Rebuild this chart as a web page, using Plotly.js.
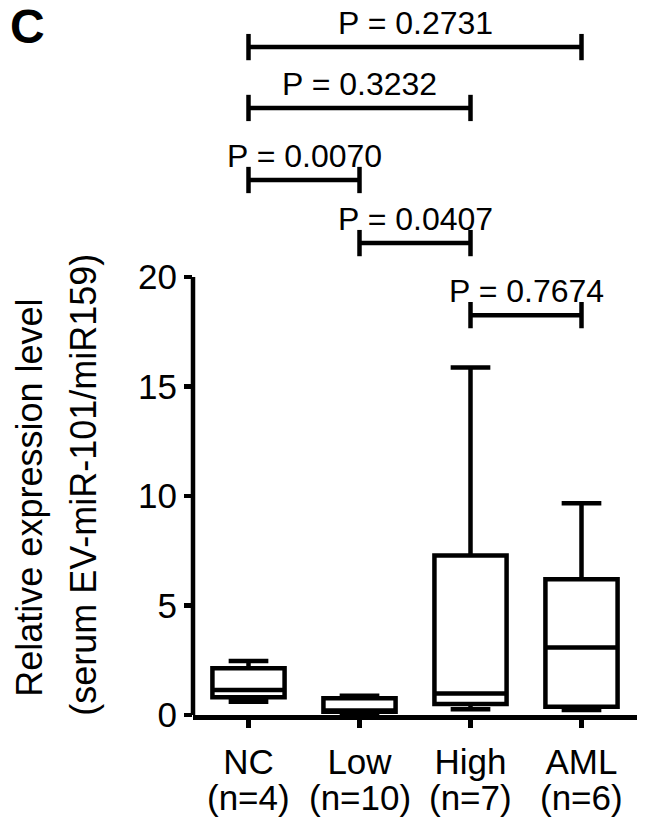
<!DOCTYPE html>
<html>
<head>
<meta charset="utf-8">
<script src="https://cdn.plot.ly/plotly-3.0.1.min.js"></script>
<style>
  html, body { margin: 0; padding: 0; background: #fff; }
  #chart { width: 646px; height: 831px; }
</style>
</head>
<body>
<div id="chart"></div>
<script>
// groups and box stats
var groups = ['NC', 'Low', 'High', 'AML'];
var nCounts = [4, 10, 7, 6];
var lowerWhisker = [0.61, 0.08, 0.26, 0.23];
var q1 = [0.81, 0.15, 0.50, 0.38];
var medians = [1.14, 0.20, 0.98, 3.08];
var q3 = [2.13, 0.76, 7.28, 6.20];
var upperWhisker = [2.47, 0.88, 15.87, 9.67];

// pairwise comparisons: [group a, group b], p value, bracket height
var pairs = [[0, 3], [0, 2], [0, 1], [1, 2], [2, 3]];
var pValues = ['0.2731', '0.3232', '0.0070', '0.0407', '0.7674'];
var bracketLevels = [30.5, 27.72, 24.43, 21.55, 18.26];

var yTicks = [0, 5, 10, 15, 20];

var FONT = 'Liberation Sans, Arial, sans-serif';
var lw = 4.5;

var boxTrace = {
  type: 'box',
  x: groups,
  q1: q1,
  median: medians,
  q3: q3,
  lowerfence: lowerWhisker,
  upperfence: upperWhisker,
  boxpoints: false,
  fillcolor: 'white',
  line: { color: 'black', width: lw },
  width: 0.65,
  whiskerwidth: 0.55,
  hoverinfo: 'skip',
  showlegend: false
};

var shapes = [];
var annotations = [];

// y axis line only from 0 to 20
shapes.push({
  type: 'line', xref: 'paper', yref: 'y',
  x0: 0, x1: 0, y0: 0, y1: yTicks[yTicks.length - 1],
  line: { color: 'black', width: lw }
});

for (var i = 0; i < pairs.length; i++) {
  var a = pairs[i][0], b = pairs[i][1], lev = bracketLevels[i];
  shapes.push({ type: 'line', xref: 'x', yref: 'y', x0: a, x1: b, y0: lev, y1: lev,
    line: { color: 'black', width: lw } });
  shapes.push({ type: 'line', xref: 'x', yref: 'y', x0: a, x1: a, y0: lev - 0.6, y1: lev + 0.6,
    line: { color: 'black', width: lw } });
  shapes.push({ type: 'line', xref: 'x', yref: 'y', x0: b, x1: b, y0: lev - 0.6, y1: lev + 0.6,
    line: { color: 'black', width: lw } });
  annotations.push({
    xref: 'x', yref: 'y', x: (a + b) / 2, y: lev,
    xanchor: 'center', yanchor: 'bottom', yshift: 4,
    text: 'P = ' + pValues[i], showarrow: false,
    font: { family: FONT, size: 32, color: 'black' }
  });
}

for (var j = 0; j < groups.length; j++) {
  annotations.push({
    xref: 'x', yref: 'paper', x: j, y: -0.1147,
    xanchor: 'center', yanchor: 'middle',
    text: '(n=' + nCounts[j] + ')', showarrow: false,
    font: { family: FONT, size: 35, color: 'black' }
  });
}

// y title, two lines
annotations.push({
  xref: 'paper', yref: 'paper', x: -0.367, y: 0.304,
  xanchor: 'center', yanchor: 'middle', textangle: -90,
  text: 'Relative expression level', showarrow: false,
  font: { family: FONT, size: 36, color: 'black' }
});
annotations.push({
  xref: 'paper', yref: 'paper', x: -0.2455, y: 0.322,
  xanchor: 'center', yanchor: 'middle', textangle: -90,
  text: '(serum EV-miR-101/miR159)', showarrow: false,
  font: { family: FONT, size: 36, color: 'black' }
});

// panel letter
annotations.push({
  xref: 'paper', yref: 'paper', x: -0.4167, y: 1,
  xanchor: 'left', yanchor: 'top', yshift: 2,
  text: '<b>C</b>', showarrow: false,
  font: { family: FONT, size: 48, color: 'black' }
});

var layout = {
  width: 646,
  height: 831,
  margin: { l: 193, r: 9, t: 0, b: 116 },
  paper_bgcolor: 'white',
  plot_bgcolor: 'white',
  showlegend: false,
  font: { family: FONT, color: 'black' },
  xaxis: {
    type: 'category',
    range: [-0.5, 3.5],
    showline: true, linecolor: 'black', linewidth: lw,
    ticks: 'outside', ticklen: 8, tickwidth: lw, tickcolor: 'black',
    ticklabelstandoff: 4,
    tickfont: { family: FONT, size: 35, color: 'black' },
    showgrid: false, zeroline: false, fixedrange: true
  },
  yaxis: {
    range: [0, 32.65],
    tickvals: yTicks,
    ticktext: yTicks.map(String),
    showline: false,
    ticks: 'outside', ticklen: 8, tickwidth: lw, tickcolor: 'black',
    tickfont: { family: FONT, size: 35, color: 'black' },
    showgrid: false, zeroline: false, fixedrange: true
  },
  shapes: shapes,
  annotations: annotations
};

Plotly.newPlot('chart', [boxTrace], layout, { staticPlot: true });
</script>
</body>
</html>
